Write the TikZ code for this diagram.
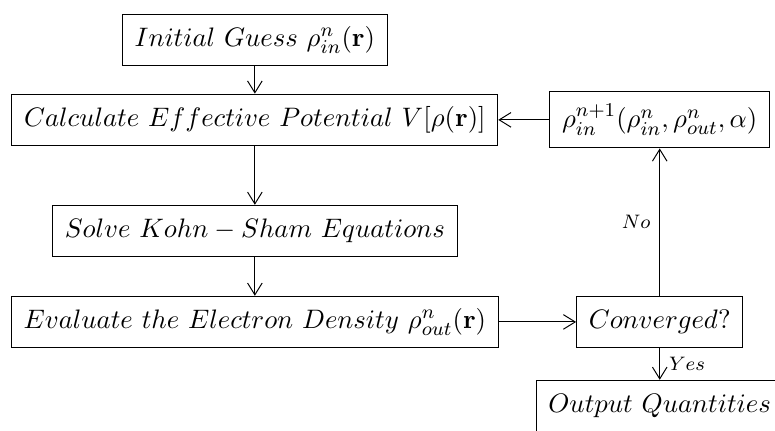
\documentclass[tikz,border=0pt,11pt]{standalone}
\usepackage{amsmath}
\usepackage{tikz}
\usetikzlibrary{calc}
\usetikzlibrary{arrows.meta}

\begin{document}
\begin{tikzpicture}[>={Straight Barb[length=1.7mm,width=2.1mm]}]

	\useasboundingbox (0,0) rectangle (11.16,6.206);

	\begin{scope}[every node/.style={rectangle,thin,draw,fill=white,minimum height=0.74cm,inner sep=5pt}]
		\node (init) at (3.67,5.63) {$Initial\ Guess\ \rho_{in}^{n}(\mathbf{r})$};
		\node (calc) at (3.67,4.48) {$Calculate\ Effective\ Potential\ V[\rho(\mathbf{r})]$};
		\node (mix) at (9.50,4.48) {$\rho_{in}^{n+1}(\rho_{in}^{n},\rho_{out}^{n},\alpha)$};
		\node (ks) at (3.67,2.88) {$Solve\ Kohn-Sham\ Equations$};
		\node (dens) at (3.67,1.57) {$Evaluate\ the\ Electron\ Density\ \rho_{out}^{n}(\mathbf{r})$};
		\node (conv) at (9.50,1.57) {$Converged?$};
		\node (out) at (9.50,0.36) {$Output\ Quantities$};
	\end{scope}

	\begin{scope}[->, every node/.style={font=\scriptsize}]
		\draw (init) -- (calc);
		\draw (calc) -- (ks);
		\draw (ks) -- (dens);
		\draw (dens) -- (conv);
		\draw (conv) -- node[left] {$No$} (mix);
		\draw (mix) -- (calc);
		\draw (conv) -- node[right] {$Yes$} (out);
	\end{scope}

\end{tikzpicture}
\end{document}
